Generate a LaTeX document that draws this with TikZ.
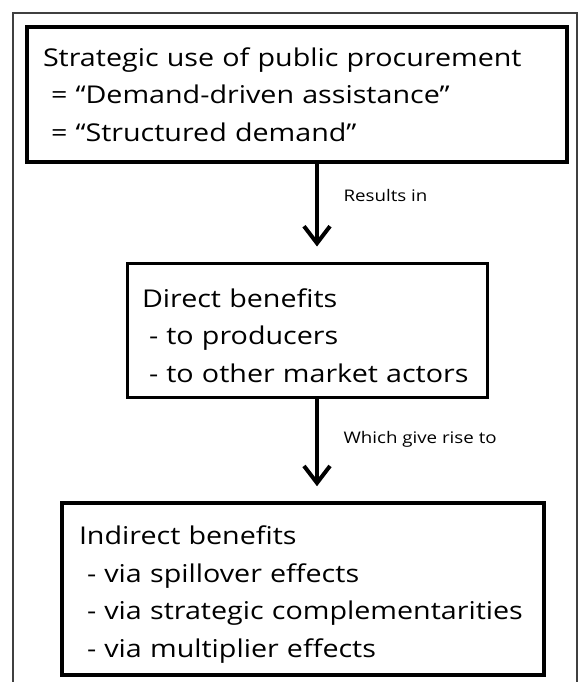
\documentclass[tikz,border=0pt]{standalone}
\usepackage{fontspec}
\setmainfont{Open Sans}[FakeStretch=1.17]
\usetikzlibrary{arrows.meta}

\begin{document}
\begin{tikzpicture}[x=1pt, y=-1pt,
    box/.style={draw, align=left, font=\fontsize{24.5}{37.5}\selectfont},
    lbl/.style={anchor=west, font=\fontsize{16}{19}\selectfont},
    flow/.style={line width=4pt, shorten >=15pt, -{Straight Barb[length=17pt, width=26pt]}}]
        \useasboundingbox (0,0) rectangle (584,682);

        % 外框
        \draw [line width=2pt, black!75] (13,700) -- (13,13) -- (577,13) -- (577,700);

        % 三个方框
        \node[box, line width=4pt, inner xsep=16pt, text width=508pt, minimum height=135pt] (use) at (297,94.5)
            {Strategic use of public procurement\\
             \hspace*{8pt}= “Demand-driven assistance”\\
             \hspace*{8pt}= “Structured demand”};
        \node[box, line width=3pt, inner xsep=15pt, text width=330pt, minimum height=134pt] (direct) at (307,330)
            {\rule{0pt}{30pt}Direct benefits\\
             \hspace*{7pt}- to producers\\
             \hspace*{7pt}- to other market actors};
        \node[box, line width=3.5pt, inner xsep=17pt, text width=448pt, minimum height=172pt] (indirect) at (303,589)
            {\rule{0pt}{30pt}Indirect benefits\\
             \hspace*{8pt}- via spillover effects\\
             \hspace*{8pt}- via strategic complementarities\\
             \hspace*{8pt}- via multiplier effects};

        % 箭头
        \coordinate (axis) at (317,0);
        \draw [flow] (use.south -| axis) -- (direct.north -| axis);
        \draw [flow] (direct.south -| axis) -- (indirect.north -| axis);

        % 标注
        \node[lbl] (resin) at (340,195) {Results in};
        \node[lbl] (rise) at (340,439) {Which give rise to};
\end{tikzpicture}
\end{document}
